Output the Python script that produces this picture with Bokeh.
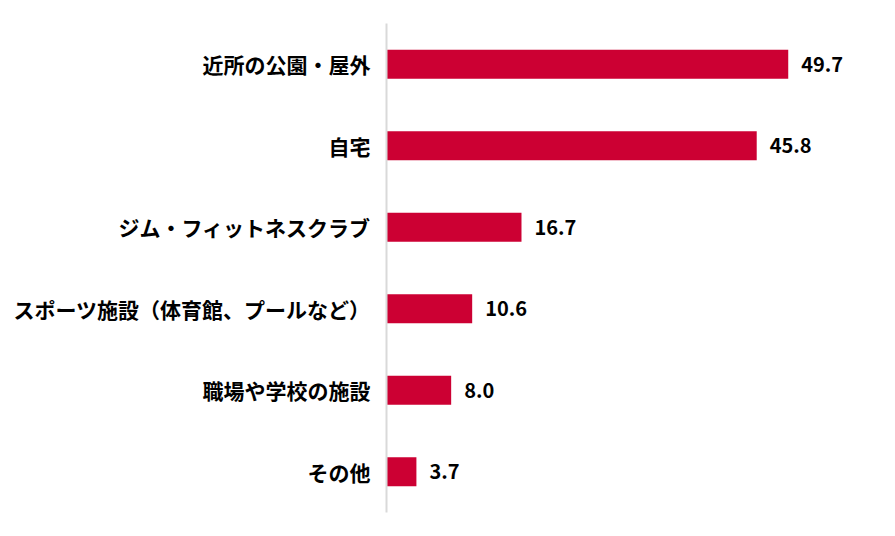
from bokeh.plotting import figure
from bokeh.models import ColumnDataSource, FactorRange, Range1d
from bokeh.core.properties import value
from bokeh.embed import file_html
from bokeh.resources import INLINE

categories = ["近所の公園・屋外", "自宅", "ジム・フィットネスクラブ",
              "スポーツ施設（体育館、プールなど）", "職場や学校の施設", "その他"]
values = [49.7, 45.8, 16.7, 10.6, 8.0, 3.7]
value_labels = ["49.7", "45.8", "16.7", "10.6", "8.0", "3.7"]

src = ColumnDataSource(dict(cat=categories, val=values, lab=value_labels))

p = figure(y_range=FactorRange(*reversed(categories)), x_range=Range1d(0, 60),
           frame_width=485, frame_height=489, output_backend="svg",
           toolbar_location=None, min_border_left=386, min_border_top=23,
           min_border_bottom=8, min_border_right=5)

p.hbar(y="cat", right="val", height=0.355, left=0, source=src,
       fill_color="#CC0033", line_color=None)

p.text(x="val", y="cat", text="lab", source=src, x_offset=13,
       text_baseline="middle", text_align="left",
       text_font=value("Noto Sans CJK JP"), text_font_style="bold",
       text_font_size="20px", text_color="#000000")

p.xaxis.visible = False
p.xgrid.grid_line_color = None
p.ygrid.grid_line_color = None
p.outline_line_color = None
ax = p.yaxis[0]
ax.axis_line_color = "#D9D9D9"
ax.axis_line_width = 2
ax.major_tick_line_color = None
ax.minor_tick_line_color = None
ax.major_tick_out = 0
ax.major_tick_in = 0
ax.major_label_standoff = 16
ax.major_label_text_font = "Noto Sans CJK JP"
ax.major_label_text_font_style = "bold"
ax.major_label_text_font_size = "21px"
ax.major_label_text_color = "#000000"

open("out.html", "w").write(file_html(p, INLINE))
